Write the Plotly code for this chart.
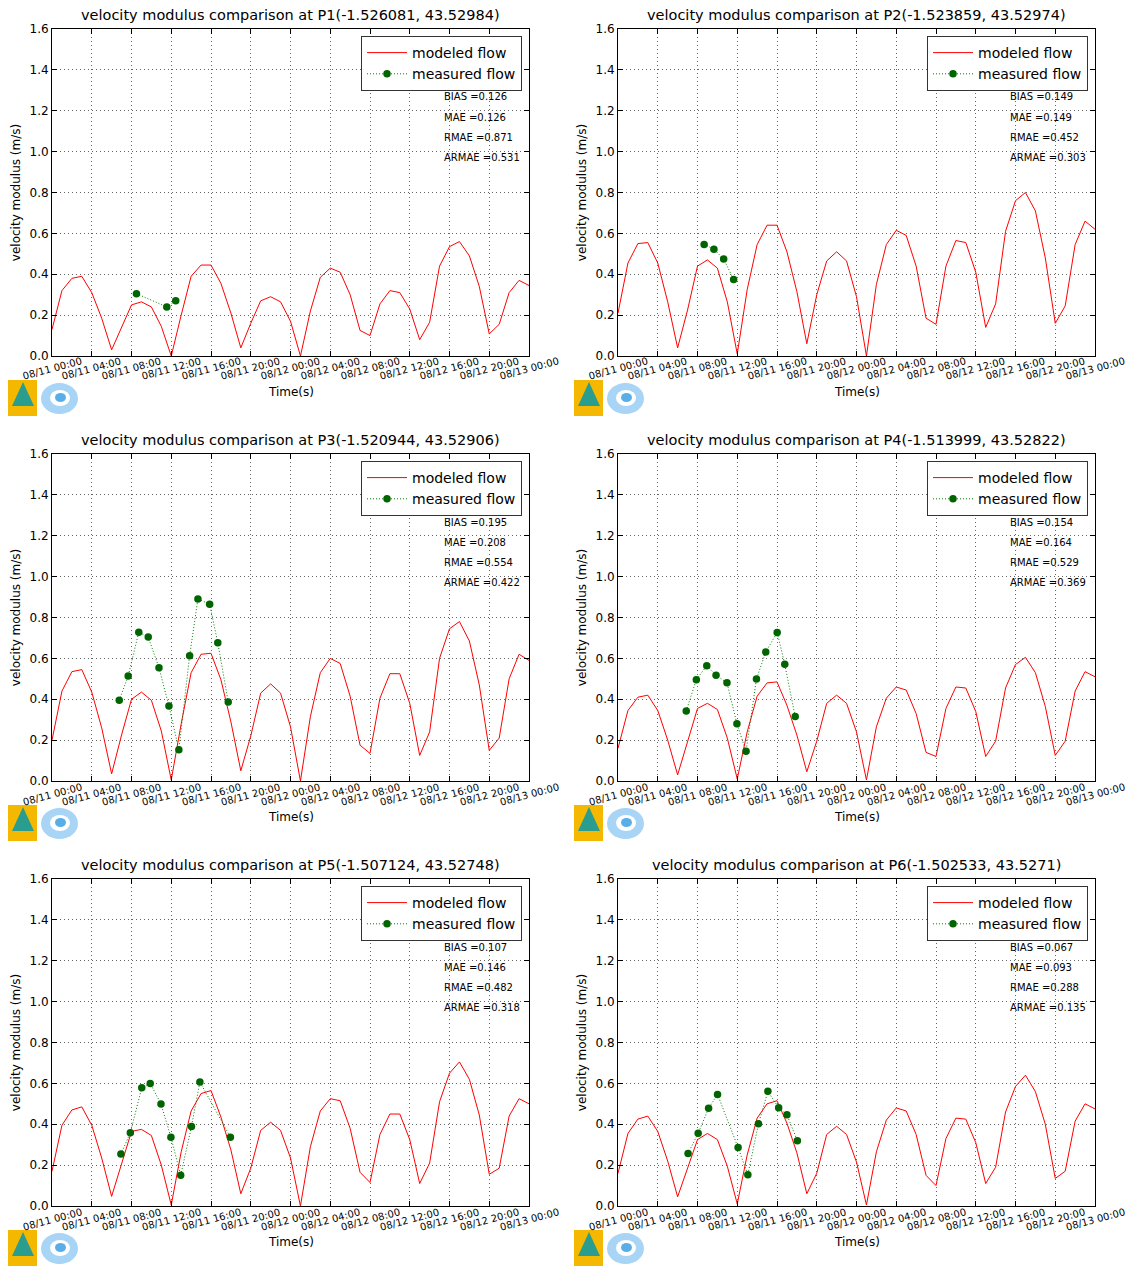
import pandas as pd
import plotly.graph_objects as go

# ---------------- data ----------------
model_times = pd.date_range("2015-08-11 00:00", "2015-08-13 00:00", freq="h").strftime("%Y-%m-%d %H:%M").tolist()
tick_times = model_times[::4]
tick_labels = ["08/11 00:00", "08/11 04:00", "08/11 08:00", "08/11 12:00", "08/11 16:00", "08/11 20:00",
               "08/12 00:00", "08/12 04:00", "08/12 08:00", "08/12 12:00", "08/12 16:00", "08/12 20:00",
               "08/13 00:00"]

titles = [
    "velocity modulus comparison at P1(-1.526081, 43.52984)",
    "velocity modulus comparison at P2(-1.523859, 43.52974)",
    "velocity modulus comparison at P3(-1.520944, 43.52906)",
    "velocity modulus comparison at P4(-1.513999, 43.52822)",
    "velocity modulus comparison at P5(-1.507124, 43.52748)",
    "velocity modulus comparison at P6(-1.502533, 43.5271)",
]

model_p1 = [0.13, 0.32, 0.38, 0.39, 0.31, 0.185, 0.03, 0.14, 0.25, 0.265, 0.24, 0.145, 0.0,
            0.2, 0.39, 0.445, 0.445, 0.355, 0.21, 0.04, 0.16, 0.27, 0.29, 0.265, 0.17, 0.0,
            0.22, 0.385, 0.43, 0.41, 0.30, 0.125, 0.10, 0.255, 0.32, 0.31, 0.23, 0.08, 0.165,
            0.44, 0.535, 0.56, 0.49, 0.34, 0.108, 0.155, 0.31, 0.37, 0.345]
model_p2 = [0.21, 0.455, 0.55, 0.555, 0.455, 0.265, 0.04, 0.225, 0.44, 0.47, 0.43, 0.265, 0.01,
            0.325, 0.545, 0.64, 0.64, 0.51, 0.315, 0.06, 0.30, 0.465, 0.51, 0.465, 0.29, 0.0,
            0.35, 0.545, 0.615, 0.59, 0.44, 0.185, 0.155, 0.44, 0.565, 0.555, 0.41, 0.14, 0.255,
            0.61, 0.76, 0.80, 0.71, 0.48, 0.16, 0.245, 0.545, 0.66, 0.62]
model_p3 = [0.20, 0.44, 0.535, 0.545, 0.435, 0.26, 0.035, 0.225, 0.40, 0.435, 0.395, 0.245, 0.005,
            0.28, 0.53, 0.62, 0.625, 0.495, 0.29, 0.05, 0.22, 0.43, 0.475, 0.43, 0.265, 0.0,
            0.315, 0.53, 0.60, 0.575, 0.415, 0.175, 0.135, 0.405, 0.525, 0.525, 0.38, 0.125, 0.24,
            0.60, 0.745, 0.78, 0.685, 0.47, 0.15, 0.21, 0.50, 0.62, 0.59]
model_p4 = [0.16, 0.345, 0.41, 0.42, 0.345, 0.20, 0.03, 0.195, 0.355, 0.38, 0.35, 0.21, 0.01,
            0.24, 0.415, 0.48, 0.485, 0.37, 0.225, 0.045, 0.195, 0.38, 0.42, 0.38, 0.24, 0.005,
            0.265, 0.405, 0.46, 0.445, 0.33, 0.14, 0.12, 0.355, 0.46, 0.455, 0.34, 0.12, 0.195,
            0.455, 0.57, 0.605, 0.53, 0.365, 0.125, 0.195, 0.44, 0.535, 0.51]
model_p5 = [0.17, 0.395, 0.47, 0.485, 0.395, 0.235, 0.047, 0.20, 0.365, 0.375, 0.345, 0.20, 0.005,
            0.265, 0.465, 0.55, 0.565, 0.435, 0.275, 0.06, 0.185, 0.37, 0.41, 0.37, 0.235, 0.0,
            0.29, 0.465, 0.525, 0.515, 0.38, 0.165, 0.115, 0.35, 0.45, 0.45, 0.325, 0.11, 0.21,
            0.51, 0.65, 0.705, 0.62, 0.445, 0.155, 0.185, 0.44, 0.525, 0.50]
model_p6 = [0.16, 0.355, 0.425, 0.44, 0.365, 0.22, 0.045, 0.185, 0.325, 0.355, 0.325, 0.195, 0.01,
            0.25, 0.43, 0.50, 0.515, 0.405, 0.26, 0.06, 0.16, 0.35, 0.39, 0.35, 0.215, 0.005,
            0.265, 0.42, 0.48, 0.465, 0.35, 0.15, 0.10, 0.33, 0.43, 0.425, 0.31, 0.11, 0.19,
            0.46, 0.585, 0.64, 0.56, 0.40, 0.135, 0.17, 0.415, 0.50, 0.475]

meas_t_p1 = ["08:30", "11:33", "12:27"]
meas_v_p1 = [0.305, 0.24, 0.27]
meas_t_p2 = ["08:40", "09:39", "10:38", "11:38"]
meas_v_p2 = [0.546, 0.522, 0.475, 0.374]
meas_t_p3 = ["06:46", "07:40", "08:44", "09:41", "10:46", "11:46", "12:46", "13:51", "14:41", "15:52", "16:41", "17:44"]
meas_v_p3 = [0.395, 0.514, 0.728, 0.704, 0.554, 0.367, 0.153, 0.613, 0.891, 0.865, 0.676, 0.387]
meas_t_p4 = ["06:52", "07:53", "08:56", "09:52", "10:58", "11:58", "12:53", "13:56", "14:52", "16:01", "16:47", "17:50"]
meas_v_p4 = [0.343, 0.496, 0.564, 0.517, 0.481, 0.28, 0.145, 0.499, 0.631, 0.727, 0.571, 0.315]
meas_t_p5 = ["06:56", "07:53", "09:02", "09:53", "10:58", "11:58", "12:57", "14:02", "14:53", "17:57"]
meas_v_p5 = [0.254, 0.358, 0.579, 0.60, 0.499, 0.337, 0.15, 0.389, 0.607, 0.337]
meas_t_p6 = ["07:03", "08:04", "09:07", "10:01", "12:05", "13:04", "14:08", "15:05", "16:10", "17:00", "18:03"]
meas_v_p6 = [0.257, 0.356, 0.478, 0.546, 0.286, 0.153, 0.402, 0.561, 0.481, 0.446, 0.319]

stats = [
    ["BIAS =0.126", "MAE =0.126", "RMAE =0.871", "ARMAE =0.531"],
    ["BIAS =0.149", "MAE =0.149", "RMAE =0.452", "ARMAE =0.303"],
    ["BIAS =0.195", "MAE =0.208", "RMAE =0.554", "ARMAE =0.422"],
    ["BIAS =0.154", "MAE =0.164", "RMAE =0.529", "ARMAE =0.369"],
    ["BIAS =0.107", "MAE =0.146", "RMAE =0.482", "ARMAE =0.318"],
    ["BIAS =0.067", "MAE =0.093", "RMAE =0.288", "ARMAE =0.135"],
]

y_ticks = [0.0, 0.2, 0.4, 0.6, 0.8, 1.0, 1.2, 1.4, 1.6]

models = [model_p1, model_p2, model_p3, model_p4, model_p5, model_p6]
meas_t = [meas_t_p1, meas_t_p2, meas_t_p3, meas_t_p4, meas_t_p5, meas_t_p6]
meas_v = [meas_v_p1, meas_v_p2, meas_v_p3, meas_v_p4, meas_v_p5, meas_v_p6]

# ---------------- layout geometry ----------------
W, H = 1129, 1268
col_px = [(52, 529), (618, 1095)]
row_px = [(29, 356), (454, 781), (879, 1206)]
FONT = "DejaVu Sans"

fig = go.Figure()
layout = dict(
    width=W, height=H, margin=dict(l=0, r=0, t=0, b=0, autoexpand=False),
    paper_bgcolor="white", plot_bgcolor="white",
    font=dict(family=FONT, color="black"),
    annotations=[], shapes=[],
)

for i in range(6):
    r, c = divmod(i, 2)
    x0, x1 = col_px[c]
    y0, y1 = row_px[r]
    sfx = "" if i == 0 else str(i + 1)
    xa, ya = "x" + sfx, "y" + sfx
    leg = "legend" + sfx

    fig.add_trace(go.Scatter(
        x=model_times, y=models[i], mode="lines", name="modeled flow",
        line=dict(color="#ff0000", width=1), xaxis=xa, yaxis=ya, legend=leg))
    fig.add_trace(go.Scatter(
        x=["2015-08-11 " + t for t in meas_t[i]], y=meas_v[i], mode="lines+markers",
        name="measured flow", line=dict(color="#008000", width=1, dash="1px,2px"),
        marker=dict(color="#006400", size=7.5), xaxis=xa, yaxis=ya, legend=leg))

    common = dict(showline=True, linecolor="black", linewidth=1, mirror="ticks",
                  ticks="inside", ticklen=5, tickcolor="black", automargin=False,
                  showgrid=True, gridcolor="rgba(0,0,0,0.6)", griddash="1px,3px", gridwidth=1,
                  zeroline=False)
    layout["xaxis" + sfx] = dict(
        common, domain=[x0 / W, x1 / W], anchor=ya,
        type="date", range=[model_times[0], model_times[-1]],
        tickmode="array", tickvals=tick_times, showticklabels=False)
    layout["yaxis" + sfx] = dict(
        common, domain=[1 - y1 / H, 1 - y0 / H], anchor=xa,
        range=[0, 1.6], tickvals=y_ticks, tickformat=".1f", tickfont=dict(size=12),
        title=dict(text="velocity modulus (m/s)", font=dict(size=12), standoff=6))
    layout[leg] = dict(
        x=(x1 - 7) / W, y=1 - (y0 + 7) / H, xanchor="right", yanchor="top",
        bgcolor="white", bordercolor="#333", borderwidth=1,
        font=dict(size=14), tracegroupgap=0, itemwidth=40)

    # rotated x tick labels (centered on ticks, matplotlib style)
    for tv, tl in zip(tick_times, tick_labels):
        layout["annotations"].append(dict(
            text=tl, x=tv, xref=xa, y=1 - (y1 + 13) / H, yref="paper",
            xanchor="center", yanchor="middle", textangle=-15, showarrow=False,
            font=dict(size=10)))
    # x title
    layout["annotations"].append(dict(
        text="Time(s)", x=(x0 + x1) / 2 / W, y=1 - (y1 + 36) / H, xref="paper", yref="paper",
        xanchor="center", yanchor="middle", showarrow=False, font=dict(size=12)))
    # title
    layout["annotations"].append(dict(
        text=titles[i], x=(x0 + x1) / 2 / W, y=1 - (y0 - 14) / H, xref="paper", yref="paper",
        xanchor="center", yanchor="middle", showarrow=False, font=dict(size=14.5)))
    # stats
    for k, s in enumerate(stats[i]):
        layout["annotations"].append(dict(
            text=s, x=(x0 + 390) / W, y=1 - (y0 + 68 + 20.3 * k) / H, xref="paper", yref="paper",
            xanchor="left", yanchor="middle", showarrow=False, font=dict(size=10)))

    # logos (decorative)
    lx = x0 - 44
    ly = y1 + 24
    layout["shapes"].append(dict(type="rect", xref="paper", yref="paper",
                                 x0=lx / W, x1=(lx + 29) / W, y0=1 - (ly + 36) / H, y1=1 - ly / H,
                                 fillcolor="#f5b800", line=dict(width=0)))
    layout["shapes"].append(dict(type="path", xref="paper", yref="paper",
                                 path=f"M {(lx+4)/W},{1-(ly+26)/H} L {(lx+15)/W},{1-(ly+2)/H} L {(lx+26)/W},{1-(ly+26)/H} Z",
                                 fillcolor="#2a9d8f", line=dict(width=0)))
    layout["shapes"].append(dict(type="circle", xref="paper", yref="paper",
                                 x0=(lx + 33) / W, x1=(lx + 70) / W, y0=1 - (ly + 34) / H, y1=1 - (ly + 3) / H,
                                 fillcolor="#a8d4f5", line=dict(width=0)))
    layout["shapes"].append(dict(type="circle", xref="paper", yref="paper",
                                 x0=(lx + 42) / W, x1=(lx + 62) / W, y0=1 - (ly + 26) / H, y1=1 - (ly + 10) / H,
                                 fillcolor="white", line=dict(width=0)))
    layout["shapes"].append(dict(type="circle", xref="paper", yref="paper",
                                 x0=(lx + 47) / W, x1=(lx + 58) / W, y0=1 - (ly + 22) / H, y1=1 - (ly + 13) / H,
                                 fillcolor="#5aaee8", line=dict(width=0)))

fig.update_layout(**layout)
fig.write_html("out.html", config={"displayModeBar": False},
               post_script="document.body.style.margin='0';document.body.style.overflow='hidden';")
